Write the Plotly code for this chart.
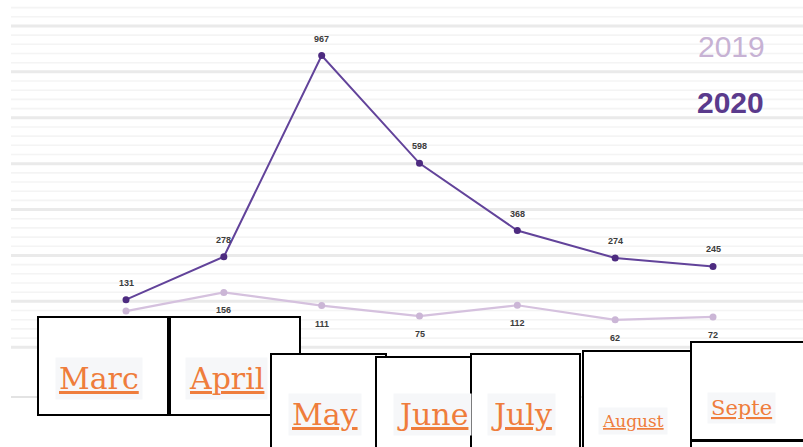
import plotly.graph_objects as go

months = ["March", "April", "May", "June", "July", "August", "September"]
shown_labels = ["Marc", "April", "May", "June", "July", "August", "Septe"]
values_2019 = [92, 156, 111, 75, 112, 62, 72]
values_2020 = [131, 278, 967, 598, 368, 274, 245]
# the March 2019 label is hidden behind the label box in the original
show_2019_label = [False, True, True, True, True, True, True]

W, H = 803, 447
C2019 = "#d5c1de"
C2019_M = "#cbb6d6"
C2020 = "#62439a"
C2020_M = "#4d2b80"
ORANGE = "#ef7d3c"
NARROW = "Liberation Sans Narrow, Arial Narrow, Liberation Sans, sans-serif"
SERIF = "DejaVu Serif, Liberation Serif, serif"

def px(x):
    return x / W

def py(y):
    return 1 - y / H

fig = go.Figure()
fig.add_trace(go.Scatter(x=months, y=values_2019, mode="lines+markers", name="2019",
                         line=dict(color=C2019, width=2.2),
                         marker=dict(color=C2019_M, size=7)))
fig.add_trace(go.Scatter(x=months, y=values_2020, mode="lines+markers", name="2020",
                         line=dict(color=C2020, width=2),
                         marker=dict(color=C2020_M, size=7)))

shapes = []
# background stripes
for k in range(38):
    y = 7.6 + 9.18 * k
    thick = (k % 5 == 2)
    shapes.append(dict(type="line", xref="paper", yref="paper", layer="below",
                       x0=px(11), x1=1, y0=py(y), y1=py(y),
                       line=dict(color="#eaeaea" if thick else "#f4f4f4", width=3 if thick else 1.6)))
# baseline
shapes.append(dict(type="line", xref="paper", yref="paper", layer="below",
                   x0=px(11), x1=px(700), y0=py(397), y1=py(397),
                   line=dict(color="#e3e3e3", width=2)))

annotations = []
for m, v in zip(months, values_2020):
    annotations.append(dict(x=m, y=v, text=f"<b>{v}</b>", showarrow=False, yshift=17,
                            font=dict(family=NARROW, size=9, color="#3b3b3b")))
for m, v, s in zip(months, values_2019, show_2019_label):
    if s:
        annotations.append(dict(x=m, y=v, text=f"<b>{v}</b>", showarrow=False, yshift=-18,
                                font=dict(family=NARROW, size=9, color="#3b3b3b")))

annotations.append(dict(xref="paper", yref="paper", x=px(731), y=py(46), text="2019",
                        xanchor="center", yanchor="middle",
                        showarrow=False, font=dict(family=NARROW, size=30, color="#c7b2d4")))
annotations.append(dict(xref="paper", yref="paper", x=px(730), y=py(102), text="<b>2020</b>",
                        xanchor="center", yanchor="middle",
                        showarrow=False, font=dict(family=NARROW, size=30, color="#5a3a8c")))

# label boxes (x0, y0, x1, y1), text left x, text center y, font size
boxes = [
    (38, 317, 168, 415, 60, 378, 30),
    (170, 317, 300, 415, 190, 378, 30),
    (271, 354, 386, 460, 293, 414, 30),
    (376, 357, 490, 460, 398, 414, 30),
    (471, 354, 580, 460, 492, 414, 30),
    (583, 351, 691, 460, 603, 421, 17),
    (691, 342, 810, 440, 712, 408, 21),
]
box_shapes = []
for (x0, y0, x1, y1, tx, ty, fs), lab in zip(boxes, shown_labels):
    box_shapes.append(dict(type="rect", xref="paper", yref="paper", layer="above",
                           x0=px(x0), x1=px(x1), y0=py(y0), y1=py(y1),
                           fillcolor="white", line=dict(color="black", width=2)))
box_shapes.append(dict(type="rect", xref="paper", yref="paper", layer="above",
                       x0=px(691), x1=px(810), y0=py(441), y1=py(470),
                       fillcolor="white", line=dict(color="black", width=2)))

label_annos = []
for (x0, y0, x1, y1, tx, ty, fs), lab in zip(boxes, shown_labels):
    label_annos.append(dict(xref="paper", yref="paper", x=px(tx - 5), y=py(ty),
                            xanchor="left", yanchor="middle", text=f"<u>{lab}</u>",
                            showarrow=False, bgcolor="#f6f7f9", borderpad=3,
                            font=dict(family=SERIF, size=fs, color=ORANGE)))

fig.update_layout(
    width=W, height=H,
    margin=dict(l=0, r=0, t=0, b=0),
    paper_bgcolor="white", plot_bgcolor="rgba(0,0,0,0)",
    showlegend=False,
    xaxis=dict(visible=False, range=[-1.288, 6.92], fixedrange=True),
    yaxis=dict(visible=False, range=[-373.5, 1157.5], fixedrange=True),
    shapes=shapes + box_shapes,
    annotations=annotations + label_annos,
)

fig.write_html("out.html", config={"displayModeBar": False},
               post_script="document.body.style.margin='0';document.body.style.overflow='hidden';")
